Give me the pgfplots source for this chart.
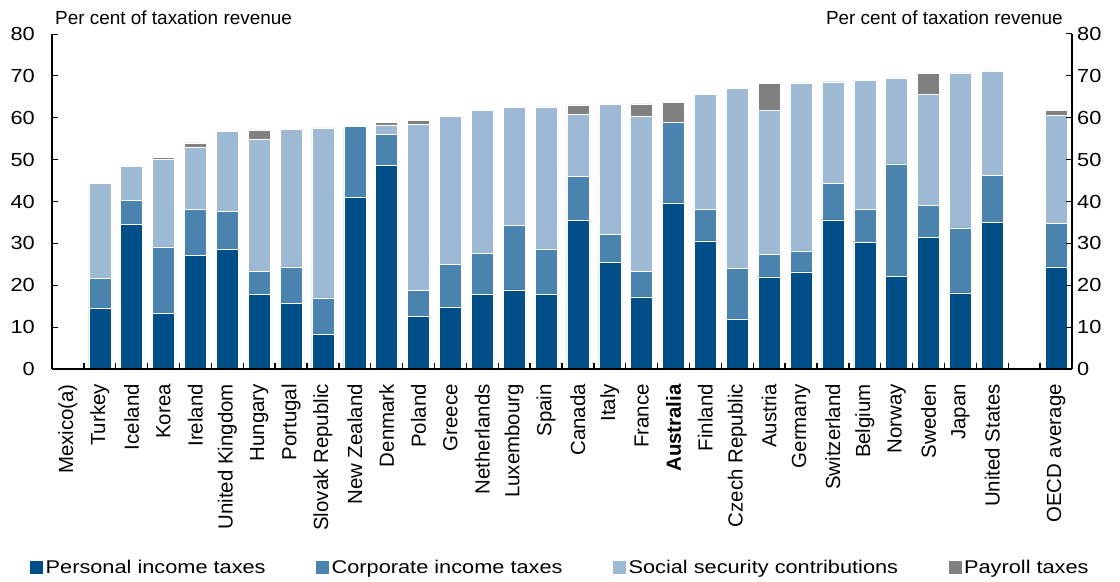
\documentclass[border=0pt]{standalone}
\usepackage{fontspec}
\setmainfont{Liberation Sans}
\newfontfamily\stretchfont[FakeStretch=1.15]{Liberation Sans}
\newfontfamily\legfont[FakeStretch=1.18]{Liberation Sans}
\usepackage{pgfplots}
\usepackage{pgfplotstable}
\pgfplotsset{compat=1.18}
\definecolor{pit}{RGB}{0,78,135}
\definecolor{cit}{RGB}{74,131,173}
\definecolor{ssc}{RGB}{158,185,211}
\definecolor{pay}{RGB}{128,128,128}
\pgfplotstableread{
x pit cit ssc pay
1 14.5 7.2 22.7 0
2 34.6 5.6 8.2 0
3 13.3 15.9 20.9 0.5
4 27.1 11.1 14.8 1.0
5 28.5 9.2 19.0 0
6 17.8 5.6 31.4 2.3
7 15.6 8.8 32.8 0
8 8.3 8.7 40.6 0
9 41.0 16.9 0 0
10 48.7 7.4 2.2 0.6
11 12.5 6.2 39.7 1.0
12 14.8 10.2 35.4 0
13 17.8 9.8 34.1 0
14 18.9 15.4 28.2 0
15 17.8 10.9 33.9 0
16 35.5 10.5 14.8 2.3
17 25.4 6.8 31.0 0
18 17.2 6.2 37.0 2.9
19 39.7 19.2 0 4.7
20 30.6 7.5 27.5 0
21 12.0 12.0 43.1 0
22 22.0 5.4 34.3 6.5
23 23.2 5.0 40.1 0
24 35.6 8.8 24.2 0
25 30.4 7.7 30.8 0
26 22.1 26.9 20.5 0
27 31.5 7.5 26.6 5.0
28 18.2 15.5 37.0 0
29 35.0 11.3 24.9 0
31 24.4 10.4 25.8 1.2
}\data
\pgfplotsset{sqlegend/.style={legend image code/.code={\fill[##1,draw=none] (0bp,-6.5bp) rectangle (13bp,6.5bp);}}}
\begin{document}
\begin{tikzpicture}
\useasboundingbox (-52bp,-213bp) rectangle (1068bp,369bp);
\begin{axis}[name=main, at={(0,0)}, anchor=south west,
  width=1020bp, height=335bp, scale only axis,
  xmin=-0.5, xmax=31.5, ymin=0, ymax=80, clip=false,
  axis x line*=bottom, axis y line*=left,
  axis line style={line width=1.2bp, black},
  ybar stacked, bar width=22bp,
  tick align=inside,
  major tick length=6bp,
  tick style={line width=1bp, black},
  xtick style={draw=none},
  ytick={0,10,...,80},
  /pgf/number format/assume math mode=true,
  yticklabel style={font=\stretchfont\fontsize{19}{19}\selectfont, anchor=east, inner sep=0pt, xshift=-17bp},
  xtick={0,1,2,3,4,5,6,7,8,9,10,11,12,13,14,15,16,17,18,19,20,21,22,23,24,25,26,27,28,29,31},
  xticklabels={Mexico(a),Turkey,Iceland,Korea,Ireland,United Kingdom,Hungary,Portugal,Slovak Republic,New Zealand,Denmark,Poland,Greece,Netherlands,Luxembourg,Spain,Canada,Italy,France,\textbf{Australia},Finland,Czech Republic,Austria,Germany,Switzerland,Belgium,Norway,Sweden,Japan,United States,OECD average},
  xticklabel style={font=\fontsize{20.5}{20.5}\selectfont, rotate=90, anchor=east, inner sep=0pt},
  xticklabel shift=15bp,
  legend style={at={(axis description cs:-0.0216,-0.594)}, anchor=west, draw=none, fill=none, inner sep=0pt,
    font=\legfont\fontsize{18.5}{18.5}\selectfont, nodes={inner sep=2.5bp},
    /tikz/every even column/.append style={column sep=48bp}},
  legend columns=4, legend cell align=left,
]
\addplot[fill=pit, draw=white, line width=0.4bp, sqlegend] table[x=x,y=pit]{\data};
\addplot[fill=cit, draw=white, line width=0.4bp, sqlegend] table[x=x,y=cit]{\data};
\addplot[fill=ssc, draw=white, line width=0.4bp, sqlegend] table[x=x,y=ssc]{\data};
\addplot[fill=pay, draw=white, line width=0.4bp, sqlegend] table[x=x,y=pay]{\data};
\legend{Personal income taxes, Corporate income taxes, Social security contributions, Payroll taxes}
\node[anchor=base west, inner sep=0pt, font=\fontsize{19}{19}\selectfont] at ([xshift=3bp,yshift=9bp]rel axis cs:0,1) {Per cent of taxation revenue};
\node[anchor=base east, inner sep=0pt, font=\fontsize{19}{19}\selectfont] at ([xshift=-9bp,yshift=9bp]rel axis cs:1,1) {Per cent of taxation revenue};
\end{axis}
\begin{axis}[at={(0,0)}, anchor=south west,
  width=1020bp, height=335bp, scale only axis,
  xmin=-0.5, xmax=31.5, ymin=0, ymax=80,
  axis y line*=right, axis x line*=bottom,
  axis line style={line width=1.2bp, black},
  tick align=inside, major tick length=6bp,
  tick style={line width=1bp, black},
  xtick style={line width=1.4bp, black},
  ytick={0,10,...,80},
  xtick={0.5,1.5,2.5,3.5,4.5,5.5,6.5,7.5,8.5,9.5,10.5,11.5,12.5,13.5,14.5,15.5,16.5,17.5,18.5,19.5,20.5,21.5,22.5,23.5,24.5,25.5,26.5,27.5,28.5,29.5,30.5},
  xticklabels={},
  /pgf/number format/assume math mode=true,
  yticklabel style={font=\stretchfont\fontsize{19}{19}\selectfont, anchor=west, inner sep=0pt, xshift=5bp},
]
\end{axis}
\end{tikzpicture}
\end{document}
